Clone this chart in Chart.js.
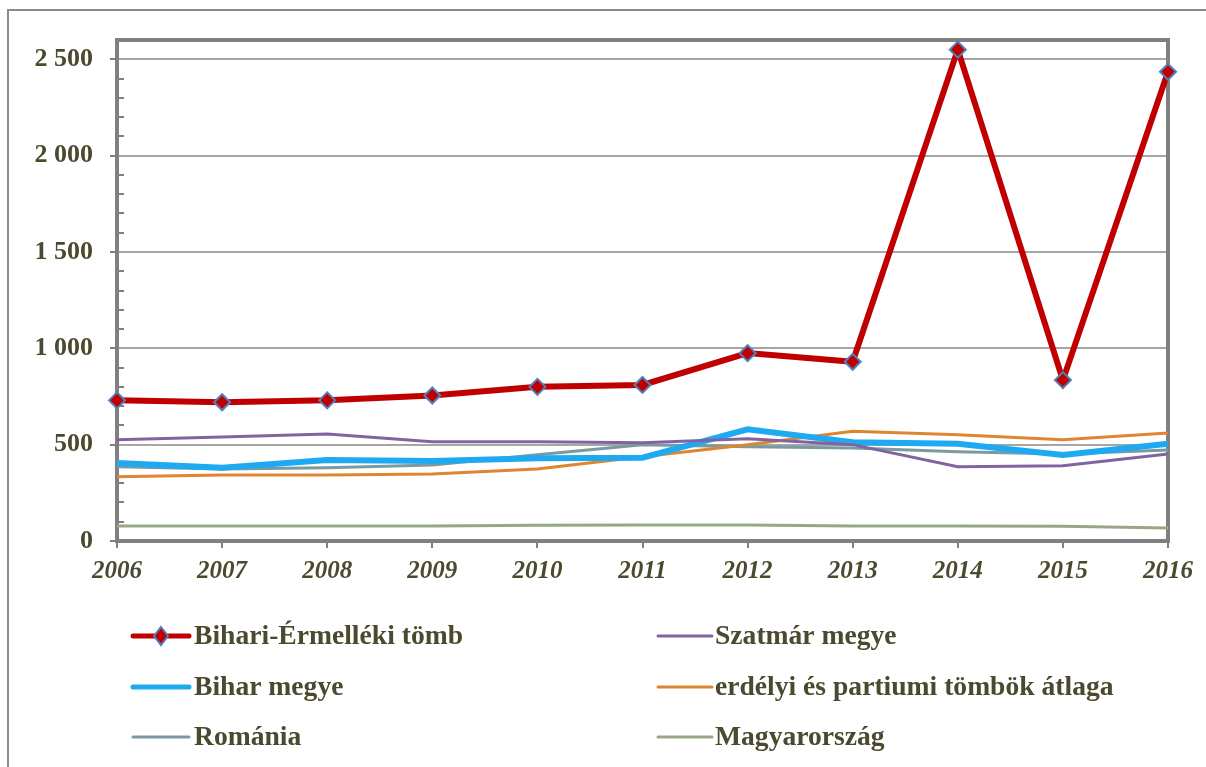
<!DOCTYPE html>
<html>
<head>
<meta charset="utf-8">
<script src="https://cdn.jsdelivr.net/npm/chart.js@4"></script>
<style>
  html, body { margin: 0; padding: 0; background: #fff; }
  #wrap { width: 1206px; height: 767px; position: relative; }
</style>
</head>
<body>
<div id="wrap"><canvas id="chart"></canvas></div>
<script>
const years = ["2006", "2007", "2008", "2009", "2010", "2011", "2012", "2013", "2014", "2015", "2016"];
const bihariErmelleki = [730, 720, 730, 755, 800, 810, 975, 930, 2550, 835, 2435];
const szatmar = [525, 540, 555, 515, 515, 510, 530, 500, 385, 390, 452];
const biharMegye = [405, 380, 420, 415, 430, 432, 580, 512, 505, 447, 505];
const erdelyiAtlag = [333, 343, 343, 348, 374, 437, 499, 570, 551, 525, 561];
const romania = [385, 374, 380, 395, 447, 499, 489, 483, 463, 452, 472];
const magyarorszag = [78, 78, 78, 78, 82, 83, 83, 78, 78, 76, 68];
const yTicks = [0, 500, 1000, 1500, 2000, 2500];

const textColor = "#4b4a2f";
const serif = "'Liberation Serif', 'Times New Roman', serif";

function fmt(v) {
  return String(v).replace(/\B(?=(\d{3})+(?!\d))/g, " ");
}

const line = (label, data, color, width) => ({
  label, data, borderColor: color, backgroundColor: color,
  borderWidth: width, pointRadius: 0, tension: 0, fill: false,
});

const datasets = [
  {
    label: "Bihari-Érmelléki tömb",
    data: bihariErmelleki,
    borderColor: "#c00000",
    borderWidth: 6,
    pointStyle: "rectRot",
    pointRadius: 8,
    pointBackgroundColor: "#c00000",
    pointBorderColor: "#4f81bd",
    pointBorderWidth: 2,
    tension: 0,
  },
  line("Szatmár megye", szatmar, "#8064a2", 3),
  line("Bihar megye", biharMegye, "#1eaaf1", 6),
  line("erdélyi és partiumi tömbök átlaga", erdelyiAtlag, "#e0852f", 3),
  line("Románia", romania, "#7a9aa2", 3),
  line("Magyarország", magyarorszag, "#98a884", 3),
];

// outer frame, plot frame, minor ticks and the two-column legend
const decor = {
  id: "decor",
  beforeDraw(chart) {
    const ctx = chart.ctx;
    ctx.save();
    ctx.strokeStyle = "#8c8c8c";
    ctx.lineWidth = 2;
    ctx.beginPath();
    ctx.moveTo(8, chart.height);
    ctx.lineTo(8, 10);
    ctx.lineTo(chart.width, 10);
    ctx.stroke();
    ctx.restore();
  },
  beforeDatasetsDraw(chart) {
    const { ctx, chartArea: a, scales } = chart;
    ctx.save();
    ctx.strokeStyle = "#808080";
    ctx.lineWidth = 2;
    for (let v = 100; v < 2600; v += 100) {
      if (v % 500 === 0) continue;
      const y = Math.round(scales.y.getPixelForValue(v));
      ctx.beginPath();
      ctx.moveTo(a.left, y);
      ctx.lineTo(a.left + 7, y);
      ctx.stroke();
    }
    ctx.lineWidth = 4;
    ctx.strokeRect(a.left, a.top, a.right - a.left, a.bottom - a.top);
    ctx.restore();
  },
  afterDraw(chart) {
    const ctx = chart.ctx;
    const cols = [{ x: 133, len: 56, tx: 194 }, { x: 658, len: 54, tx: 715 }];
    const rows = [636, 687, 737];
    ctx.save();
    ctx.font = "bold 27.6px " + serif;
    ctx.textBaseline = "middle";
    chart.data.datasets.forEach((ds, i) => {
      const c = cols[i % 2];
      const y = rows[Math.floor(i / 2)];
      ctx.strokeStyle = ds.borderColor;
      ctx.lineWidth = ds.borderWidth === 6 ? 5 : 3;
      ctx.lineCap = "round";
      ctx.beginPath();
      ctx.moveTo(c.x, y);
      ctx.lineTo(c.x + c.len, y);
      ctx.stroke();
      if (ds.pointStyle === "rectRot") {
        const cx = c.x + 28;
        ctx.fillStyle = ds.pointBackgroundColor;
        ctx.strokeStyle = ds.pointBorderColor;
        ctx.lineWidth = 2;
        ctx.beginPath();
        ctx.moveTo(cx, y - 9);
        ctx.lineTo(cx + 7, y);
        ctx.lineTo(cx, y + 9);
        ctx.lineTo(cx - 7, y);
        ctx.closePath();
        ctx.fill();
        ctx.stroke();
      }
      ctx.fillStyle = textColor;
      ctx.fillText(ds.label, c.tx, y + 1);
    });
    ctx.restore();
  },
};

new Chart(document.getElementById("chart"), {
  type: "line",
  data: { labels: years, datasets },
  plugins: [decor],
  options: {
    responsive: true,
    maintainAspectRatio: false,
    animation: false,
    layout: { padding: { left: 0, right: 38, top: 40, bottom: 176 } },
    plugins: { legend: { display: false }, tooltip: { enabled: false } },
    scales: {
      x: {
        offset: false,
        grid: { drawOnChartArea: false, drawTicks: true, tickLength: 7, color: "#808080", lineWidth: 2 },
        border: { display: true, color: "#808080", width: 4 },
        ticks: {
          color: textColor,
          font: { family: serif, size: 25, weight: "bold", style: "italic" },
          padding: 9,
          maxRotation: 0,
          autoSkip: false,
        },
        afterFit(s) { s.height = 50; },
      },
      y: {
        min: 0,
        max: 2600,
        afterBuildTicks(s) { s.ticks = yTicks.map((v) => ({ value: v })); },
        grid: { color: "#a6a6a6", lineWidth: 2, tickLength: 7, tickColor: "#808080" },
        border: { display: true, color: "#808080", width: 4 },
        ticks: {
          color: textColor,
          font: { family: serif, size: 26, weight: "bold" },
          padding: 17,
          callback: (v) => fmt(v),
        },
        afterFit(s) { s.width = 117; },
      },
    },
  },
});
</script>
</body>
</html>
